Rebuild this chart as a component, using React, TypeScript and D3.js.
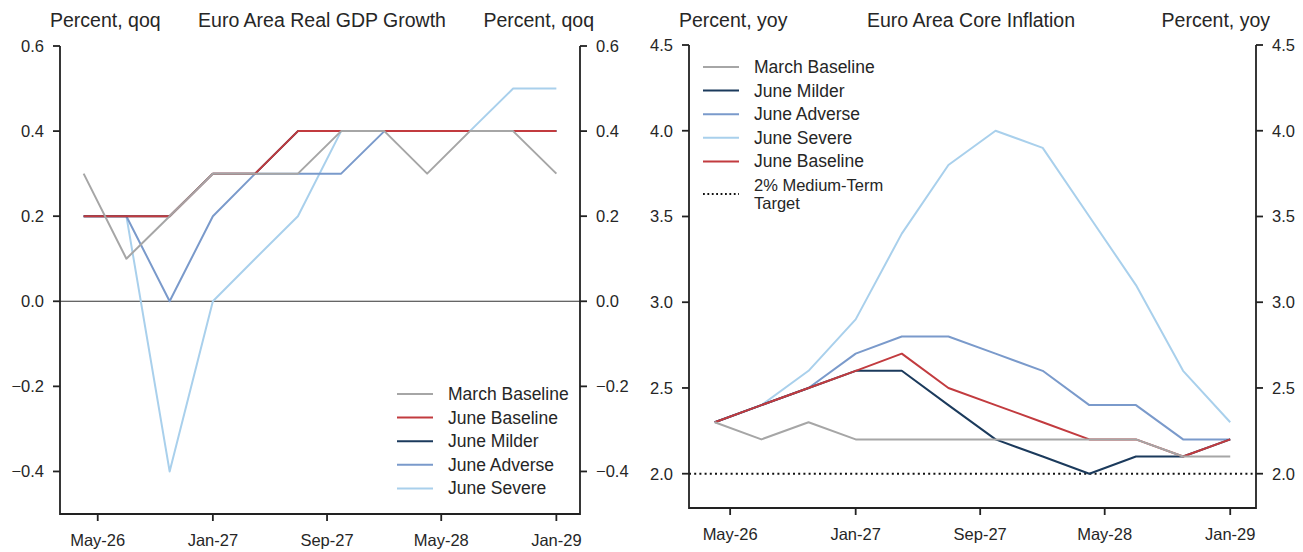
import * as d3 from "d3"

// quarterly observation months (first month of each quarter shown)
const quarters = [
  "2026-04", "2026-07", "2026-10", "2027-01", "2027-04", "2027-07",
  "2027-10", "2028-01", "2028-04", "2028-07", "2028-10", "2029-01",
]
const tickMonths = ["2026-05", "2027-01", "2027-09", "2028-05", "2029-01"]

// real GDP growth, percent qoq
const gdpMarchBaseline = [0.3, 0.1, 0.2, 0.3, 0.3, 0.3, 0.4, 0.4, 0.3, 0.4, 0.4, 0.3]
const gdpJuneBaseline = [0.2, 0.2, 0.2, 0.3, 0.3, 0.4, 0.4, 0.4, 0.4, 0.4, 0.4, 0.4]
const gdpJuneMilder = [0.2, 0.2, 0.2, 0.3, 0.3, 0.4, 0.4, 0.4, 0.4, 0.4, 0.4, 0.4]
const gdpJuneAdverse = [0.2, 0.2, 0.0, 0.2, 0.3, 0.3, 0.3, 0.4, 0.4, 0.4, 0.4, 0.4]
const gdpJuneSevere = [0.2, 0.2, -0.4, 0.0, 0.1, 0.2, 0.4, 0.4, 0.4, 0.4, 0.5, 0.5]
const gdpTicks = [-0.4, -0.2, 0.0, 0.2, 0.4, 0.6]

// core inflation, percent yoy
const cpiMarchBaseline = [2.3, 2.2, 2.3, 2.2, 2.2, 2.2, 2.2, 2.2, 2.2, 2.2, 2.1, 2.1]
const cpiJuneMilder = [2.3, 2.4, 2.5, 2.6, 2.6, 2.4, 2.2, 2.1, 2.0, 2.1, 2.1, 2.2]
const cpiJuneAdverse = [2.3, 2.4, 2.5, 2.7, 2.8, 2.8, 2.7, 2.6, 2.4, 2.4, 2.2, 2.2]
const cpiJuneSevere = [2.3, 2.4, 2.6, 2.9, 3.4, 3.8, 4.0, 3.9, 3.5, 3.1, 2.6, 2.3]
const cpiJuneBaseline = [2.3, 2.4, 2.5, 2.6, 2.7, 2.5, 2.4, 2.3, 2.2, 2.2, 2.1, 2.2]
const cpiTicks = [2.0, 2.5, 3.0, 3.5, 4.0, 4.5]
const cpiTarget = 2.0

const COLORS = {
  march: "#a6a6a6",
  baseline: "#c23b3f",
  milder: "#1b3a5c",
  adverse: "#7a9acb",
  severe: "#a9d0ec",
}

const FONT = "'Liberation Sans', Arial, sans-serif"
const INK = "#262626"

const parseMonth = d3.timeParse("%Y-%m")
const fmtMonth = d3.timeFormat("%b-%y")
const dates = quarters.map((q) => parseMonth(q) as Date)
const tickDates = tickMonths.map((m) => parseMonth(m) as Date)

interface Series {
  name: string
  color: string
  values: number[]
  width?: number
}

interface LegendItem {
  label: string[]
  color: string
  dotted?: boolean
}

interface PanelProps {
  title: string
  unit: string
  left: number
  right: number
  top: number
  bottom: number
  titleX: number
  yDomain: [number, number]
  yTicks: number[]
  series: Series[]
  legend: LegendItem[]
  legendX: number
  legendY: number
  zeroLine?: boolean
  target?: number
}

function Panel(p: PanelProps) {
  const [t0, t1] = d3.extent(dates) as [Date, Date]
  const pad = (t1.getTime() - t0.getTime()) * 0.05
  const x = d3
    .scaleTime()
    .domain([new Date(t0.getTime() - pad), new Date(t1.getTime() + pad)])
    .range([p.left, p.right])
  const y = d3.scaleLinear().domain(p.yDomain).range([p.bottom, p.top])

  const line = d3
    .line<number>()
    .x((_, i) => x(dates[i]))
    .y((d) => y(d))

  const tickLen = 7
  const fmt = d3.format(".1f")
  const lineGap = 18

  return (
    <g fontFamily={FONT} fill={INK}>
      {/* header row */}
      <text x={p.left - 10} y={27} fontSize={19.5}>{p.unit}</text>
      <text x={p.titleX} y={27} fontSize={19.5} textAnchor="middle">{p.title}</text>
      <text x={p.right + 14} y={27} fontSize={19.5} textAnchor="end">{p.unit}</text>

      {p.zeroLine && (
        <line x1={p.left} x2={p.right} y1={y(0)} y2={y(0)} stroke="#333" strokeWidth={1.2} />
      )}
      {p.target !== undefined && (
        <line
          x1={p.left}
          x2={p.right}
          y1={y(p.target)}
          y2={y(p.target)}
          stroke="#111"
          strokeWidth={2}
          strokeDasharray="2,3.2"
        />
      )}

      {p.series.map((s) => (
        <path
          key={s.name}
          d={line(s.values) ?? ""}
          fill="none"
          stroke={s.color}
          strokeWidth={s.width ?? 2}
          strokeLinejoin="round"
        />
      ))}

      {/* spines */}
      <path
        d={`M${p.left},${p.top}V${p.bottom}H${p.right}V${p.top}`}
        fill="none"
        stroke="#222"
        strokeWidth={1.8}
      />

      {p.yTicks.map((v) => (
        <g key={v}>
          <line x1={p.left - tickLen} x2={p.left} y1={y(v)} y2={y(v)} stroke="#222" strokeWidth={1.8} />
          <line x1={p.right} x2={p.right + tickLen} y1={y(v)} y2={y(v)} stroke="#222" strokeWidth={1.8} />
          <text x={p.left - 16} y={y(v) + 6} fontSize={16.5} textAnchor="end">{fmt(v)}</text>
          <text x={p.right + 16} y={y(v) + 6} fontSize={16.5}>{fmt(v)}</text>
        </g>
      ))}

      {tickDates.map((d) => (
        <g key={d.getTime()}>
          <line x1={x(d)} x2={x(d)} y1={p.bottom} y2={p.bottom + tickLen} stroke="#222" strokeWidth={1.8} />
          <text x={x(d)} y={p.bottom + 32} fontSize={16.5} textAnchor="middle">{fmtMonth(d)}</text>
        </g>
      ))}

      {/* legend */}
      {p.legend.map((item, i) => {
        const ly = p.legendY + i * 23.6
        const mid = ly + ((item.label.length - 1) * lineGap) / 2
        return (
          <g key={item.label.join(" ")}>
            <line
              x1={p.legendX}
              x2={p.legendX + 36}
              y1={mid}
              y2={mid}
              stroke={item.dotted ? "#111" : item.color}
              strokeWidth={item.dotted ? 1.8 : 2}
              strokeDasharray={item.dotted ? "1.8,2.6" : undefined}
            />
            <text x={p.legendX + 51} y={ly + 6} fontSize={item.label.length > 1 ? 16.5 : 17.5}>
              {item.label.map((t, j) => (
                <tspan key={j} x={p.legendX + 51} dy={j === 0 ? 0 : lineGap}>{t}</tspan>
              ))}
            </text>
          </g>
        )
      })}
    </g>
  )
}

export default function App() {
  const gdpSeries: Series[] = [
    { name: "June Severe", color: COLORS.severe, values: gdpJuneSevere },
    { name: "June Adverse", color: COLORS.adverse, values: gdpJuneAdverse },
    { name: "June Milder", color: COLORS.milder, values: gdpJuneMilder },
    { name: "June Baseline", color: COLORS.baseline, values: gdpJuneBaseline },
    { name: "March Baseline", color: COLORS.march, values: gdpMarchBaseline },
  ]
  const cpiSeries: Series[] = [
    { name: "June Severe", color: COLORS.severe, values: cpiJuneSevere },
    { name: "June Adverse", color: COLORS.adverse, values: cpiJuneAdverse },
    { name: "June Milder", color: COLORS.milder, values: cpiJuneMilder },
    { name: "June Baseline", color: COLORS.baseline, values: cpiJuneBaseline },
    { name: "March Baseline", color: COLORS.march, values: cpiMarchBaseline },
  ]

  return (
    <svg
      width={1303}
      height={552}
      style={{ position: "absolute", left: 0, top: 0, background: "#fff" }}
    >
      <Panel
        title="Euro Area Real GDP Growth"
        unit="Percent, qoq"
        left={60}
        right={580}
        top={46}
        bottom={514}
        titleX={322}
        yDomain={[-0.5, 0.6]}
        yTicks={gdpTicks}
        series={gdpSeries}
        zeroLine
        legendX={397}
        legendY={394}
        legend={[
          { label: ["March Baseline"], color: COLORS.march },
          { label: ["June Baseline"], color: COLORS.baseline },
          { label: ["June Milder"], color: COLORS.milder },
          { label: ["June Adverse"], color: COLORS.adverse },
          { label: ["June Severe"], color: COLORS.severe },
        ]}
      />
      <Panel
        title="Euro Area Core Inflation"
        unit="Percent, yoy"
        left={689}
        right={1256}
        top={45}
        bottom={508}
        titleX={971}
        yDomain={[1.8, 4.5]}
        yTicks={cpiTicks}
        series={cpiSeries}
        target={cpiTarget}
        legendX={703}
        legendY={67}
        legend={[
          { label: ["March Baseline"], color: COLORS.march },
          { label: ["June Milder"], color: COLORS.milder },
          { label: ["June Adverse"], color: COLORS.adverse },
          { label: ["June Severe"], color: COLORS.severe },
          { label: ["June Baseline"], color: COLORS.baseline },
          { label: ["2% Medium-Term", "Target"], color: "#111", dotted: true },
        ]}
      />
    </svg>
  )
}
